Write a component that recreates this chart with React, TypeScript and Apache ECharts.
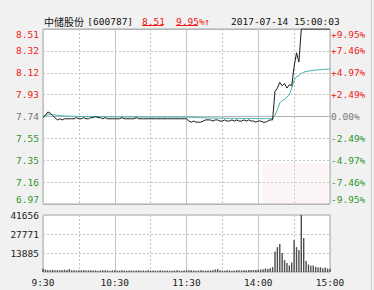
import React, { useEffect, useRef } from 'react';
import * as echarts from 'echarts';

const PRICE_MIN = 6.97;
const PRICE_MAX = 8.51;
const PRICE_LABELS = ['6.97', '7.16', '7.35', '7.55', '7.74', '7.93', '8.12', '8.32', '8.51'];
const PCT_LABELS = ['-9.95%', '-7.46%', '-4.97%', '-2.49%', '0.00%', '+2.49%', '+4.97%', '+7.46%', '+9.95%'];
const VOL_MAX = 41656;
const VOL_LABELS = ['', '13885', '27771', '41656'];
const TIME_LABELS = ['9:30', '10:30', '11:30', '14:00', '15:00'];
const MINUTE_STEP = 2;
const TOTAL_MINUTES = 240;

// price every 2 minutes (trading minutes since 9:30)
const PRICES = [
  7.73, 7.75, 7.78, 7.77, 7.75, 7.73, 7.71, 7.72, 7.71, 7.72,
  7.72, 7.72, 7.72, 7.72, 7.73, 7.72, 7.72, 7.73, 7.72, 7.72,
  7.73, 7.73, 7.74, 7.73, 7.73, 7.72, 7.73, 7.72, 7.72, 7.72,
  7.72, 7.72, 7.72, 7.73, 7.72, 7.72, 7.72, 7.72, 7.72, 7.73,
  7.72, 7.72, 7.72, 7.72, 7.72, 7.72, 7.72, 7.72, 7.72, 7.72,
  7.72, 7.72, 7.72, 7.72, 7.72, 7.72, 7.72, 7.72, 7.72, 7.72,
  7.72, 7.70, 7.69, 7.70, 7.69, 7.69, 7.69, 7.70, 7.71, 7.71,
  7.71, 7.70, 7.71, 7.71, 7.70, 7.70, 7.71, 7.70, 7.70, 7.71,
  7.70, 7.71, 7.70, 7.70, 7.71, 7.70, 7.71, 7.70, 7.70, 7.69,
  7.70, 7.70, 7.69, 7.69, 7.70, 7.71, 7.71, 7.96, 7.99, 8.04,
  8.01, 8.03, 7.99, 8.02, 8.01, 8.18, 8.30, 8.22, 8.51, 8.51,
  8.51, 8.51, 8.51, 8.51, 8.51, 8.51, 8.51, 8.51, 8.51, 8.51,
  8.51,
];

const AVG_PRICES = [
  7.740, 7.750, 7.755, 7.757, 7.756, 7.753, 7.750, 7.748, 7.746, 7.745,
  7.744, 7.743, 7.742, 7.741, 7.741, 7.740, 7.740, 7.740, 7.739, 7.739,
  7.739, 7.739, 7.738, 7.738, 7.738, 7.738, 7.738, 7.737, 7.737, 7.737,
  7.737, 7.737, 7.736, 7.736, 7.736, 7.736, 7.736, 7.736, 7.736, 7.736,
  7.735, 7.735, 7.735, 7.735, 7.735, 7.735, 7.735, 7.735, 7.735, 7.735,
  7.735, 7.735, 7.735, 7.735, 7.735, 7.735, 7.735, 7.735, 7.735, 7.735,
  7.735, 7.734, 7.733, 7.732, 7.731, 7.730, 7.729, 7.728, 7.728, 7.727,
  7.727, 7.726, 7.726, 7.726, 7.725, 7.725, 7.725, 7.724, 7.724, 7.724,
  7.724, 7.723, 7.723, 7.723, 7.723, 7.722, 7.722, 7.722, 7.722, 7.722,
  7.721, 7.721, 7.721, 7.721, 7.721, 7.721, 7.722, 7.750, 7.800, 7.860,
  7.880, 7.890, 7.910, 7.930, 7.990, 8.060, 8.090, 8.100, 8.120, 8.130,
  8.135, 8.140, 8.143, 8.146, 8.148, 8.150, 8.152, 8.154, 8.156, 8.157,
  8.158,
];

const VOLUMES = [
  2400, 1800, 1500, 1300, 1600, 1200, 1400, 1300, 1500, 1700,
  1400, 2100, 1300, 1200, 1100, 1300, 1200, 1400, 1100, 1200,
  1300, 1100, 1200, 1000, 1100, 1300, 1200, 1100, 1000, 1200,
  1300, 1100, 1000, 1200, 1100, 1000, 1100, 1200, 1000, 1100,
  1300, 1000, 1100, 1000, 1200, 1000, 1100, 1000, 1000, 1200,
  1100, 1000, 1100, 1000, 1000, 1100, 1200, 1000, 1000, 1100,
  1200, 1300, 1200, 1100, 1000, 1100, 1200, 1100, 1000, 1100,
  1200, 1300, 1800, 2200, 1200, 1100, 1000, 1200, 1100, 1000,
  1100, 1200, 1300, 1100, 1200, 1300, 1400, 1500, 1300, 1400,
  1600, 1800, 2000, 2600, 2200, 2800, 3600, 15000, 18200, 20400,
  13900, 8700, 6500, 4800, 7000, 23300, 18200, 16000, 41656, 24800,
  8000, 5500, 4500, 4800, 3800, 3200, 3500, 2800, 3200, 2600,
  2400,
];

const RED = '#f01818';
const GREEN = '#2e962e';
const GREY = '#777777';
const FONT = '"DejaVu Sans Mono", monospace';

const stepColor = (v: number) => (v > 0.01 ? RED : v < -0.01 ? GREEN : GREY);

export default function App() {
  const ref = useRef<HTMLDivElement>(null);

  useEffect(() => {
    if (!ref.current) return;
    const chart = echarts.init(ref.current, undefined, { renderer: 'svg' });

    const dashed = { show: true, lineStyle: { color: '#c4c4c4', type: [2, 2] as any, width: 1 } };
    const solid = { show: true, lineStyle: { color: '#c4c4c4', type: 'solid' as any, width: 1 } };
    const hidden = { axisLine: { show: false }, axisTick: { show: false }, axisLabel: { show: false } };

    const option: any = {
      animation: false,
      backgroundColor: '#f1f1f1',
      grid: [
        { left: 43, top: 29, width: 287, height: 175, show: true, backgroundColor: '#ffffff', borderColor: '#a8a8a8', borderWidth: 1 },
        { left: 43, top: 215, width: 287, height: 57, show: true, backgroundColor: '#ffffff', borderColor: '#a8a8a8', borderWidth: 1 },
      ],
      xAxis: [
        { gridIndex: 0, type: 'value', position: 'bottom', min: 0, max: TOTAL_MINUTES, interval: 30, ...hidden, splitLine: dashed },
        { gridIndex: 0, type: 'value', position: 'bottom', min: 0, max: TOTAL_MINUTES, interval: 60, ...hidden, splitLine: solid },
        { gridIndex: 1, type: 'value', position: 'bottom', min: 0, max: TOTAL_MINUTES, interval: 30, ...hidden, splitLine: dashed },
        {
          gridIndex: 1, type: 'value', position: 'bottom', min: 0, max: TOTAL_MINUTES, interval: 60,
          axisLine: { show: false }, axisTick: { show: false }, splitLine: solid,
          axisLabel: {
            show: true, margin: 5, color: '#222', fontFamily: FONT, fontSize: 9.5,
            formatter: (v: number) => TIME_LABELS[Math.round(v / 60)] ?? '',
          },
        },
      ],
      yAxis: [
        { gridIndex: 0, type: 'value', position: 'left', min: PRICE_MIN, max: PRICE_MAX, show: false },
        {
          gridIndex: 0, type: 'value', position: 'left', min: -4, max: 4, interval: 1,
          axisLine: { show: false }, axisTick: { show: false }, splitLine: dashed,
          axisLabel: {
            show: true, margin: 4, fontFamily: FONT, fontSize: 9.5,
            color: (v: any) => stepColor(Number(v)),
            formatter: (v: number) => PRICE_LABELS[Math.round(v) + 4] ?? '',
            verticalAlignMaxLabel: 'top', verticalAlignMinLabel: 'bottom',
          },
        },
        {
          gridIndex: 0, type: 'value', position: 'right', min: -4, max: 4, interval: 1,
          axisLine: { show: false }, axisTick: { show: false }, splitLine: { show: false },
          axisLabel: {
            show: true, margin: 1, fontFamily: FONT, fontSize: 9.5,
            color: (v: any) => stepColor(Number(v)),
            formatter: (v: number) => PCT_LABELS[Math.round(v) + 4] ?? '',
            verticalAlignMaxLabel: 'top', verticalAlignMinLabel: 'bottom',
          },
        },
        {
          gridIndex: 0, type: 'value', position: 'left', min: -4, max: 4, interval: 4,
          ...hidden, splitLine: { show: true, lineStyle: { color: '#b4b4b4', type: 'solid', width: 1 } },
        },
        {
          gridIndex: 1, type: 'value', position: 'left', min: 0, max: VOL_MAX, interval: VOL_MAX / 3,
          axisLine: { show: false }, axisTick: { show: false }, splitLine: dashed,
          axisLabel: {
            show: true, margin: 4, color: '#222', fontFamily: FONT, fontSize: 9.5,
            formatter: (v: number) => VOL_LABELS[Math.round(v / (VOL_MAX / 3))] ?? '',
          },
        },
      ],
      series: [
        {
          type: 'line', xAxisIndex: 0, yAxisIndex: 0, symbol: 'none', z: 4,
          lineStyle: { color: '#45b0b0', width: 1 },
          data: AVG_PRICES.map((p, i) => [i * MINUTE_STEP, p]),
        },
        {
          type: 'line', xAxisIndex: 0, yAxisIndex: 0, symbol: 'none', z: 5,
          lineStyle: { color: '#1a1a1a', width: 1 },
          data: PRICES.map((p, i) => [i * MINUTE_STEP, p]),
        },
        {
          type: 'bar', xAxisIndex: 2, yAxisIndex: 4, barWidth: 1.4,
          itemStyle: { color: '#4e4e4e' },
          data: VOLUMES.map((v, i) => [i * MINUTE_STEP, v]),
        },
      ],
      graphic: [
        {
          type: 'rect', z: 1, silent: true,
          shape: { x: 262, y: 163, width: 67, height: 40 },
          style: { fill: 'rgba(245,215,215,0.22)' },
        },
        {
          type: 'text', x: 44, y: 21,
          style: {
            text: '{a|中储股份} {b|[600787]}', verticalAlign: 'middle',
            rich: {
              a: { fontFamily: '"Noto Sans CJK SC", sans-serif', fontSize: 10, fill: '#111' },
              b: { fontFamily: FONT, fontSize: 9.5, fill: '#111' },
            },
          },
        },
        {
          type: 'text', x: 142, y: 21,
          style: { text: '8.51', fontFamily: FONT, fontSize: 9.5, fill: RED, verticalAlign: 'middle' },
        },
        { type: 'line', shape: { x1: 142, y1: 25.5, x2: 163, y2: 25.5 }, style: { stroke: RED, lineWidth: 1 } },
        {
          type: 'text', x: 176, y: 21,
          style: { text: '9.95%↑', fontFamily: FONT, fontSize: 9.5, fill: RED, verticalAlign: 'middle' },
        },
        { type: 'line', shape: { x1: 176, y1: 25.5, x2: 198, y2: 25.5 }, style: { stroke: RED, lineWidth: 1 } },
        {
          type: 'text', x: 231, y: 21,
          style: { text: '2017-07-14 15:00:03', fontFamily: FONT, fontSize: 9.5, fill: '#111', verticalAlign: 'middle' },
        },
        { type: 'line', shape: { x1: 371.5, y1: 0, x2: 371.5, y2: 290 }, style: { stroke: '#d0d0d0', lineWidth: 1 } },
      ],
    };

    chart.setOption(option);
    return () => chart.dispose();
  }, []);

  return <div ref={ref} style={{ position: 'absolute', left: 0, top: 0, width: 374, height: 290 }} />;
}
